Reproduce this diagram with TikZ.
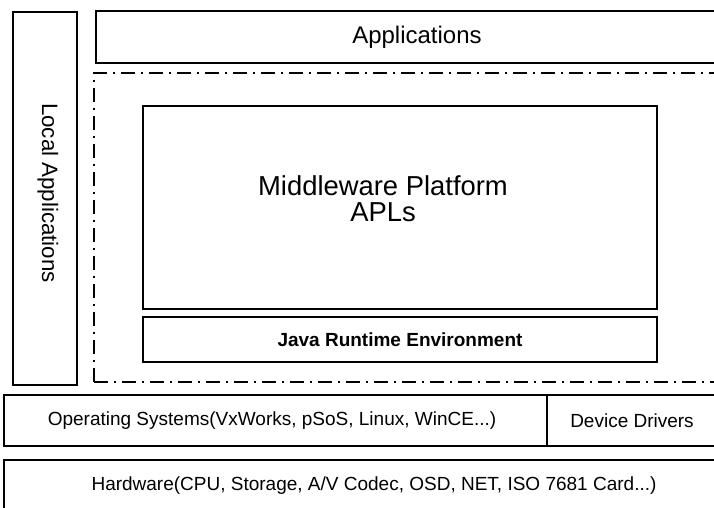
\documentclass[tikz,border=0pt]{standalone}
\usepackage{fontspec}
\setmainfont{Liberation Sans}
\begin{document}
\begin{tikzpicture}[x=1pt,y=-1pt,
  box/.style={draw, line width=1.1pt, inner sep=0pt},
  dashdotbox/.style={draw, line width=1.3pt, inner sep=0pt, dash pattern=on 14pt off 6pt on 2pt off 6pt},
  lbl/.style={inner sep=0pt, font=\fontsize{19}{22}\selectfont},
  biglbl/.style={inner sep=0pt, align=center, font=\fontsize{27.4}{26}\selectfont}]
\useasboundingbox (0,0) rectangle (714,508);
\clip (0,0) rectangle (714,508);
% boxes
\node[box, minimum width=64pt, minimum height=373pt] (local) at (45,198.5) {};
\node[box, minimum width=642pt, minimum height=52pt] (apps) at (417,37) {};
\node[dashdotbox, minimum width=636pt, minimum height=309pt] (platform) at (412,227.5) {};
\node[box, minimum width=514pt, minimum height=203pt] (mw) at (400,207.5) {};
\node[box, minimum width=514pt, minimum height=45pt] (jre) at (400,339.5) {};
\node[box, minimum width=543pt, minimum height=51pt] (os) at (275.5,420.5) {};
\node[box, minimum width=173pt, minimum height=51pt] (drv) at (633.5,420.5) {};
\node[box, minimum width=740pt, minimum height=52pt] (hw) at (374,486) {};
% texts
\node[inner sep=0pt, font=\fontsize{22.3}{26}\selectfont, rotate=-90] (localtxt) at (48,193) {Local Applications};
\node[inner sep=0pt, font=\fontsize{24}{28}\selectfont] (appstxt) at (417,37) {Applications};
\node[biglbl] (mwtxt) at (383,199) {Middleware Platform\\APLs};
\node[lbl, font=\fontsize{19}{22}\selectfont\bfseries] (jretxt) at (400,339.5) {Java Runtime Environment};
\node[lbl] (ostxt) at (272,420.5) {Operating Systems(VxWorks, pSoS, Linux, WinCE...)};
\node[lbl] (drvtxt) at (632,420.5) {Device Drivers};
\node[lbl] (hwtxt) at (374,486) {Hardware(CPU, Storage, A/V Codec, OSD, NET, ISO 7681 Card...)};
\end{tikzpicture}
\end{document}
